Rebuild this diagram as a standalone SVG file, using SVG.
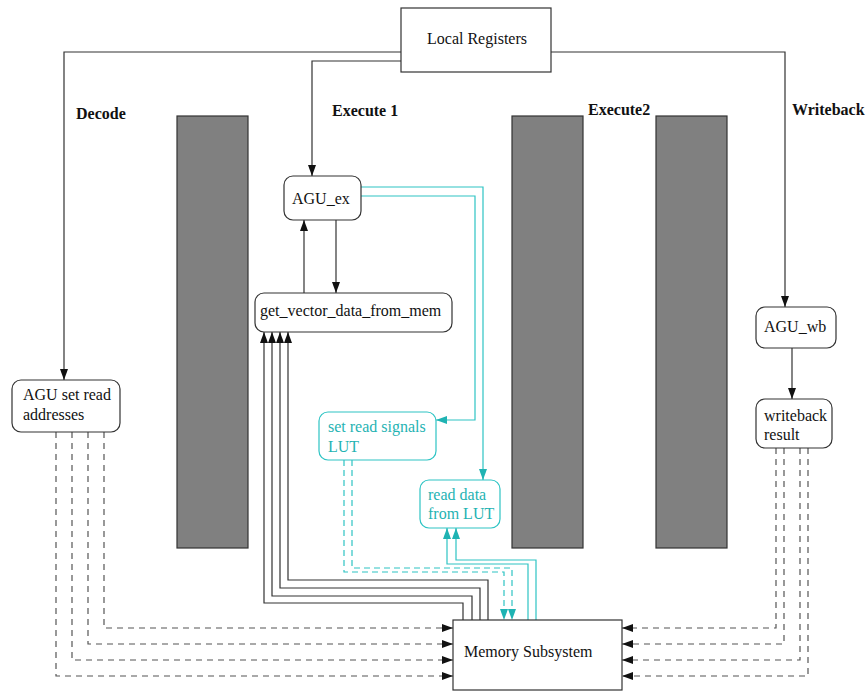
<svg xmlns="http://www.w3.org/2000/svg" width="866" height="692" viewBox="0 0 866 692">
<style>
.bg{fill:#ffffff}
.box{fill:#ffffff;stroke:#333333;stroke-width:1.2}
.cbox{fill:#ffffff;stroke:#2ec4c4;stroke-width:1.2}
.col{fill:#808080;stroke:#333333;stroke-width:1.2}
.t{font-family:"Liberation Serif","Times New Roman",serif;font-size:16px;fill:#111111}
.ct{font-family:"Liberation Serif","Times New Roman",serif;font-size:16px;fill:#1fb3b3}
.b{font-family:"Liberation Serif","Times New Roman",serif;font-size:16px;font-weight:bold;fill:#111111}
.ln{fill:none;stroke:#333333;stroke-width:1.2}
.dl{fill:none;stroke:#555555;stroke-width:1.2;stroke-dasharray:6,5}
.cl{fill:none;stroke:#2ec4c4;stroke-width:1.2}
.cdl{fill:none;stroke:#2ec4c4;stroke-width:1.2;stroke-dasharray:6,4}
</style>
<defs>
<marker id="ah" markerUnits="userSpaceOnUse" markerWidth="11" markerHeight="8" refX="11" refY="4" orient="auto"><path d="M0,0 L11,4 L0,8 z" fill="#111111"/></marker>
<marker id="ahc" markerUnits="userSpaceOnUse" markerWidth="11" markerHeight="8" refX="11" refY="4" orient="auto"><path d="M0,0 L11,4 L0,8 z" fill="#1fb3b3"/></marker>
</defs>
<rect class="bg" x="0" y="0" width="866" height="692"/>
<g id="stage-columns">
<rect class="col" x="177" y="116" width="71" height="432"/>
<rect class="col" x="512" y="116" width="71" height="432"/>
<rect class="col" x="656" y="116" width="71" height="432"/>
</g>
<g id="stage-labels">
<text class="b" x="76" y="119">Decode</text>
<text class="b" x="332" y="116">Execute 1</text>
<text class="b" x="588" y="115">Execute2</text>
<text class="b" x="792" y="115">Writeback</text>
</g>
<g id="connectors">
<path class="ln" d="M401,52 H64 V380" marker-end="url(#ah)"/>
<path class="ln" d="M401,61 H312 V176" marker-end="url(#ah)"/>
<path class="ln" d="M551,52 H785 V307" marker-end="url(#ah)"/>
<path class="ln" d="M792,348 V399" marker-end="url(#ah)"/>
<path class="ln" d="M304,293 V220" marker-end="url(#ah)"/>
<path class="ln" d="M336,220 V293" marker-end="url(#ah)"/>
<path class="cl" d="M360,187 H483 V480" marker-end="url(#ahc)"/>
<path class="cl" d="M360,196 H475 V420 H436" marker-end="url(#ahc)"/>
<path class="ln" d="M463,620 V603 H264 V332" marker-end="url(#ah)"/>
<path class="ln" d="M472,620 V596 H272 V332" marker-end="url(#ah)"/>
<path class="ln" d="M480,620 V588 H280 V332" marker-end="url(#ah)"/>
<path class="ln" d="M488,620 V580 H288 V332" marker-end="url(#ah)"/>
<path class="cl" d="M528,620 V564 H447 V528" marker-end="url(#ahc)"/>
<path class="cl" d="M536,620 V560 H456 V528" marker-end="url(#ahc)"/>
<path class="cdl" d="M344,460 V572 H504 V620" marker-end="url(#ahc)"/>
<path class="cdl" d="M352,460 V568 H512 V620" marker-end="url(#ahc)"/>
<path class="dl" d="M104,432 V628 H453" marker-end="url(#ah)"/>
<path class="dl" d="M88,432 V644 H453" marker-end="url(#ah)"/>
<path class="dl" d="M72,432 V660 H453" marker-end="url(#ah)"/>
<path class="dl" d="M56,432 V676 H453" marker-end="url(#ah)"/>
<path class="dl" d="M776,448 V628 H622" marker-end="url(#ah)"/>
<path class="dl" d="M784,448 V644 H622" marker-end="url(#ah)"/>
<path class="dl" d="M800,448 V660 H622" marker-end="url(#ah)"/>
<path class="dl" d="M808,448 V676 H622" marker-end="url(#ah)"/>
</g>
<g id="local-registers">
<rect class="box" x="401" y="8" width="150" height="64"/>
<text class="t" x="477" y="44" text-anchor="middle">Local Registers</text>
</g>
<g id="agu-ex">
<rect class="box" x="284" y="176" width="77" height="44" rx="9"/>
<text class="t" x="292" y="204">AGU_ex</text>
</g>
<g id="get-vector-data">
<rect class="box" x="255" y="293" width="197" height="39" rx="9"/>
<text class="t" x="260" y="316">get_vector_data_from_mem</text>
</g>
<g id="agu-set-read">
<rect class="box" x="12" y="380" width="108" height="52" rx="9"/>
<text class="t" x="23" y="400">AGU set read</text>
<text class="t" x="23" y="420">addresses</text>
</g>
<g id="set-read-signals-lut">
<rect class="cbox" x="319" y="412" width="117" height="48" rx="9"/>
<text class="ct" x="328" y="432">set read signals</text>
<text class="ct" x="328" y="452">LUT</text>
</g>
<g id="read-data-lut">
<rect class="cbox" x="420" y="480" width="80" height="48" rx="9"/>
<text class="ct" x="428" y="500">read data</text>
<text class="ct" x="428" y="519">from LUT</text>
</g>
<g id="agu-wb">
<rect class="box" x="756" y="307" width="80" height="41" rx="9"/>
<text class="t" x="764" y="332">AGU_wb</text>
</g>
<g id="writeback-result">
<rect class="box" x="756" y="399" width="76" height="49" rx="9"/>
<text class="t" x="764" y="421">writeback</text>
<text class="t" x="764" y="440">result</text>
</g>
<g id="memory-subsystem">
<rect class="box" x="453" y="620" width="169" height="70"/>
<text class="t" x="464" y="657">Memory Subsystem</text>
</g>
</svg>
